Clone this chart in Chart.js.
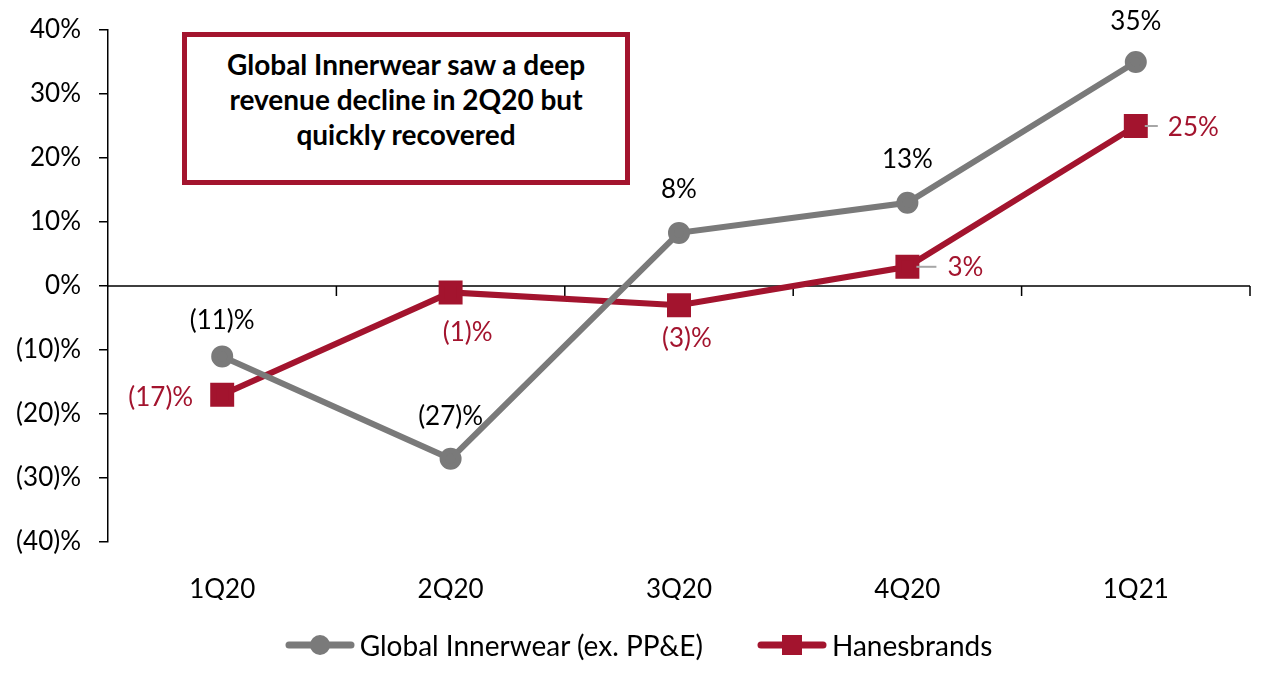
<!DOCTYPE html>
<html>
<head>
<meta charset="utf-8">
<script src="https://cdn.jsdelivr.net/npm/chart.js@4/dist/chart.umd.min.js"></script>
<style>
  html, body { margin: 0; padding: 0; background: #fff; overflow: hidden; }
  #wrap { position: relative; width: 1261px; height: 674px; }
  #growthChart { display: block; }
  #note {
    position: absolute; left: 182px; top: 32px; width: 438px; height: 143px;
    border: 5px solid #A3142E; background: #fff;
    display: flex; align-items: center; justify-content: center; text-align: center;
    font-family: Lato, "Open Sans", sans-serif; font-weight: bold; font-size: 28px; line-height: 35px; color: #000;
  }
  #note span { position: relative; top: -9px; }
  #legend {
    position: absolute; left: 8px; top: 627px; width: 1261px; height: 36px;
    display: flex; justify-content: center; align-items: center; gap: 54px;
    font-family: Lato, "Open Sans", sans-serif; font-size: 28px; color: #000;
  }
  #legend .item { display: flex; align-items: center; }
  #legend canvas { margin-right: 5px; }
</style>
</head>
<body>
<div id="wrap">
  <canvas id="growthChart" width="1261" height="674"></canvas>
  <div id="note"><span>Global Innerwear saw a deep<br>revenue decline in 2Q20 but<br>quickly recovered</span></div>
  <div id="legend"></div>
</div>
<script>
const quarters = ["1Q20", "2Q20", "3Q20", "4Q20", "1Q21"];
const innerwearGrowth = [-11, -27, 8.3, 13, 35];
const hanesGrowth = [-17, -1, -3, 3, 25];

const GRAY = "#7A7A7A";
const RED = "#A3142E";
const FONT = "Lato, 'Open Sans', sans-serif";

function pct(v) {
  const r = Math.round(Math.abs(v));
  return v < 0 ? "(" + r + ")%" : r + "%";
}

// label placement relative to each point
const grayLabelPos = [
  { dx: 0, dy: -36, align: "center" },
  { dx: 0, dy: -42, align: "center" },
  { dx: 0, dy: -43, align: "center" },
  { dx: 0, dy: -43, align: "center" },
  { dx: 0, dy: -40, align: "center" },
];
const redLabelPos = [
  { dx: -29, dy: 3, align: "right" },
  { dx: 17, dy: 40, align: "center" },
  { dx: 8, dy: 33, align: "center" },
  { dx: 40, dy: 1, align: "left", leader: 29 },
  { dx: 32, dy: 2, align: "left", leader: 22 },
];

// legend swatch: line with marker
function swatch(color, square) {
  const c = document.createElement("canvas");
  c.width = 70; c.height = 22;
  const g = c.getContext("2d");
  g.strokeStyle = color; g.lineWidth = 7; g.lineCap = "round";
  g.beginPath(); g.moveTo(4, 11); g.lineTo(66, 11); g.stroke();
  g.fillStyle = color;
  if (square) g.fillRect(25, 1, 20, 20);
  else { g.beginPath(); g.arc(35, 11, 10, 0, Math.PI * 2); g.fill(); }
  return c;
}

const zeroAxis = {
  id: "zeroAxis",
  beforeDatasetsDraw(chart) {
    const { ctx, chartArea, scales } = chart;
    const y0 = scales.y.getPixelForValue(0);
    ctx.save();
    ctx.strokeStyle = "#000";
    ctx.lineWidth = 1.5;
    ctx.beginPath();
    ctx.moveTo(chartArea.left, y0);
    ctx.lineTo(chartArea.right, y0);
    const n = quarters.length;
    const step = (chartArea.right - chartArea.left) / n;
    for (let i = 1; i <= n; i++) {
      const x = chartArea.left + step * i;
      ctx.moveTo(x, y0);
      ctx.lineTo(x, y0 + 10);
    }
    ctx.stroke();
    ctx.restore();
  },
};

const pointLabels = {
  id: "pointLabels",
  afterDatasetsDraw(chart) {
    const { ctx } = chart;
    ctx.save();
    ctx.font = "26px " + FONT;
    ctx.textBaseline = "middle";
    const sets = [
      { idx: 0, pos: grayLabelPos, color: "#000" },
      { idx: 1, pos: redLabelPos, color: RED },
    ];
    sets.forEach((s) => {
      const meta = chart.getDatasetMeta(s.idx);
      const vals = chart.data.datasets[s.idx].data;
      meta.data.forEach((pt, i) => {
        const p = s.pos[i];
        if (p.leader) {
          ctx.strokeStyle = "#A6A6A6";
          ctx.lineWidth = 2;
          ctx.beginPath();
          ctx.moveTo(pt.x + 9, pt.y);
          ctx.lineTo(pt.x + p.leader, pt.y);
          ctx.stroke();
        }
        ctx.fillStyle = s.color;
        ctx.textAlign = p.align;
        ctx.fillText(pct(vals[i]), pt.x + p.dx, pt.y + p.dy);
      });
    });
    ctx.restore();
  },
};

const chart = new Chart(document.getElementById("growthChart"), {
  type: "line",
  data: {
    labels: quarters,
    datasets: [
      {
        label: "Global Innerwear (ex. PP&E)",
        data: innerwearGrowth,
        borderColor: GRAY,
        backgroundColor: GRAY,
        borderWidth: 6,
        pointStyle: "circle",
        pointRadius: 8,
        pointHoverRadius: 8,
        tension: 0,
      },
      {
        label: "Hanesbrands",
        data: hanesGrowth,
        borderColor: RED,
        backgroundColor: RED,
        borderWidth: 6,
        pointStyle: "rect",
        pointRadius: 12.7,
        pointHoverRadius: 12.7,
        tension: 0,
      },
    ],
  },
  options: {
    responsive: false,
    animation: false,
    layout: { autoPadding: false, padding: { top: 30, right: 11, left: 0, bottom: 74 } },
    scales: {
      x: {
        offset: true,
        grid: { display: false },
        border: { display: false },
        afterFit: (s) => { s.height = 58; s.paddingLeft = 0; s.paddingRight = 0; },
        ticks: { color: "#000", font: { family: FONT, size: 26 }, padding: 24 },
      },
      y: {
        min: -40,
        max: 40,
        afterFit: (s) => { s.width = 108; s.paddingTop = 0; s.paddingBottom = 0; },
        grid: { drawOnChartArea: false, drawTicks: true, tickLength: 9, color: "#000", lineWidth: 1.5 },
        border: { color: "#000", width: 1.5 },
        ticks: {
          stepSize: 10,
          color: "#000",
          padding: 18,
          font: { family: FONT, size: 26 },
          callback: (v) => pct(v),
        },
      },
    },
    plugins: {
      tooltip: { enabled: false },
      legend: { display: false },
    },
  },
  plugins: [zeroAxis, pointLabels],
});

// html legend built from the datasets
const legendEl = document.getElementById("legend");
chart.data.datasets.forEach((ds, i) => {
  const item = document.createElement("div");
  item.className = "item";
  item.appendChild(swatch(ds.borderColor, i === 1));
  const txt = document.createElement("span");
  txt.textContent = ds.label;
  item.appendChild(txt);
  legendEl.appendChild(item);
});
</script>
</body>
</html>
